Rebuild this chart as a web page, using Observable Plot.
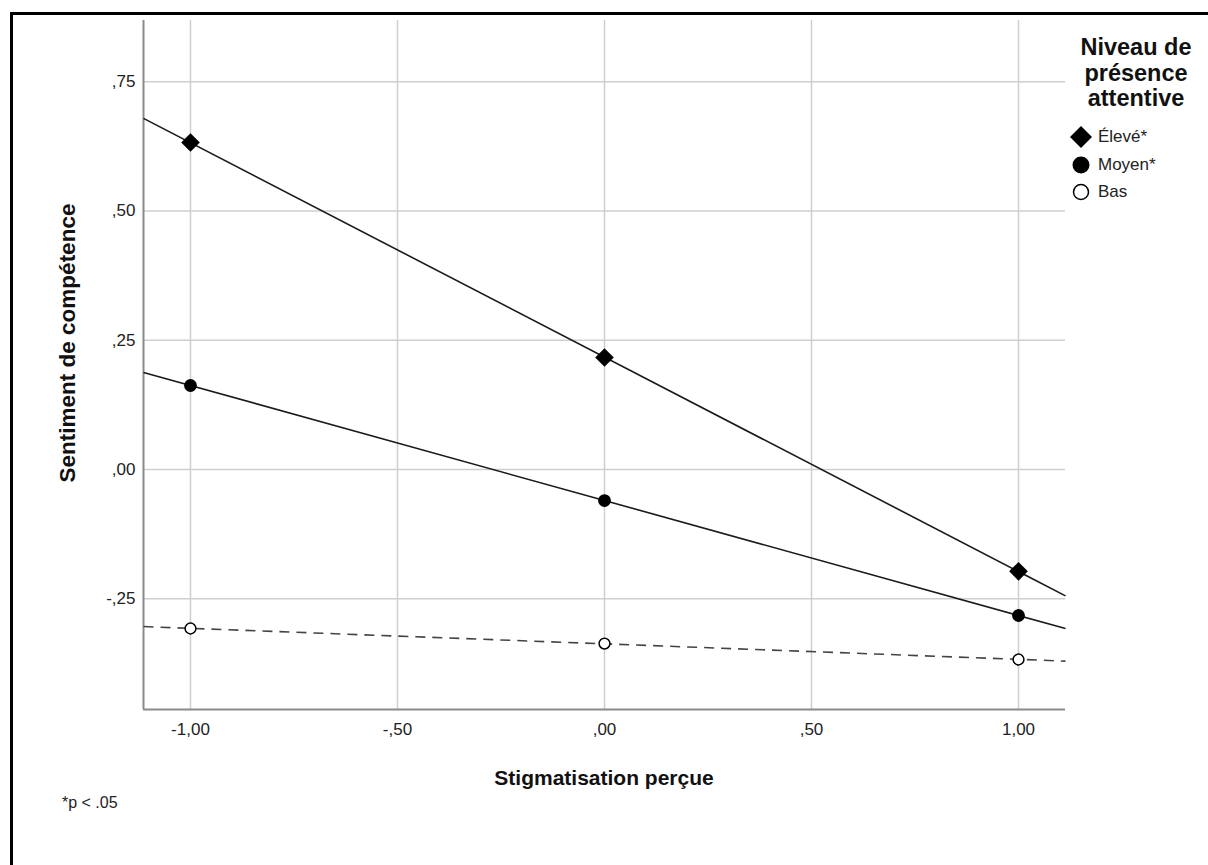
<!DOCTYPE html>
<html>
<head>
<meta charset="utf-8">
<script src="https://cdn.jsdelivr.net/npm/d3@7"></script>
<script src="https://cdn.jsdelivr.net/npm/@observablehq/plot@0.6"></script>
<style>
  html, body { margin: 0; padding: 0; background: #fff; }
  #wrap { position: relative; width: 1208px; height: 865px; overflow: hidden; font-family: "Liberation Sans", Arial, sans-serif; }
  #border { position: absolute; left: 10px; top: 12px; width: 1300px; height: 900px; border-top: 3px solid #000; border-left: 3px solid #000; }
  #chart { position: absolute; left: 0; top: 0; }
  .axtitle { position: absolute; font-weight: bold; font-size: 21px; color: #111; white-space: nowrap; }
  #xtitle { left: 604px; top: 778px; transform: translate(-50%, -50%); }
  #ytitle { left: 68px; top: 343px; font-size: 22.5px; transform: translate(-50%, -50%) rotate(-90deg); }
  #caption { position: absolute; left: 62px; top: 794px; font-size: 16px; color: #222; }
  #legend { position: absolute; left: 1066px; top: 35px; width: 140px; }
  #legend .ltitle { font-weight: bold; font-size: 23.5px; line-height: 25.5px; text-align: center; color: #111; }
  #legend .item { display: flex; align-items: center; height: 27.5px; font-size: 17px; color: #222; margin-left: 3px; }
  #legend .item svg { margin-right: 5px; }
</style>
</head>
<body>
<div id="wrap">
  <div id="border"></div>
  <div id="chart"></div>
  <div id="xtitle" class="axtitle">Stigmatisation perçue</div>
  <div id="ytitle" class="axtitle">Sentiment de compétence</div>
  <div id="caption">*p &lt; .05</div>
  <div id="legend"></div>
</div>
<script>
// ---- Data ----
const stigmaLevels = [-1, 0, 1];
const groupNames = ["Élevé*", "Moyen*", "Bas"];
const eleveValues = [0.6325, 0.2166, -0.197];
const moyenValues = [0.1625, -0.060, -0.2824];
const basValues = [-0.3075, -0.3366, -0.3675];
const xTicks = [-1, -0.5, 0, 0.5, 1];
const yTicks = [-0.25, 0, 0.25, 0.5, 0.75];
const xDomain = [-1.1135, 1.1135];
const yDomain = [-0.4642, 0.8685];
const legendTitle = ["Niveau de", "présence", "attentive"];

// ---- Build tables ----
const seriesValues = [eleveValues, moyenValues, basValues];
const points = [];
groupNames.forEach((g, gi) => stigmaLevels.forEach((x, i) => points.push({group: g, x, y: seriesValues[gi][i]})));

// least-squares fit of each series, drawn across the full x domain
function fit(xs, ys) {
  const mx = d3.mean(xs), my = d3.mean(ys);
  const b = d3.sum(xs, (x, i) => (x - mx) * (ys[i] - my)) / d3.sum(xs, x => (x - mx) ** 2);
  return {a: my - b * mx, b};
}
const fitLines = groupNames.map((g, gi) => {
  const {a, b} = fit(stigmaLevels, seriesValues[gi]);
  return {group: g, x1: xDomain[0], y1: a + b * xDomain[0], x2: xDomain[1], y2: a + b * xDomain[1]};
});

const fmt = d => {
  let s = Math.abs(d).toFixed(2).replace(".", ",");
  s = s.replace(/^0,/, ",");
  return (d < 0 ? "-" : "") + s;
};

const chart = Plot.plot({
  width: 1208,
  height: 760,
  marginLeft: 143,
  marginRight: 143,
  marginTop: 20,
  marginBottom: 51,
  style: {fontFamily: "Liberation Sans, Arial, sans-serif", fontSize: "17px", color: "#222", background: "transparent"},
  x: {domain: xDomain, ticks: xTicks, tickFormat: fmt, tickSize: 0, tickPadding: 13, label: null},
  y: {domain: yDomain, ticks: yTicks, tickFormat: fmt, tickSize: 0, tickPadding: 8, label: null},
  marks: [
    Plot.gridX(xTicks, {stroke: "#cfcfcf", strokeOpacity: 1, strokeWidth: 1.5}),
    Plot.gridY(yTicks, {stroke: "#cfcfcf", strokeOpacity: 1, strokeWidth: 1.5}),
    Plot.ruleX([xDomain[0]], {stroke: "#8a8a8a", strokeWidth: 2}),
    Plot.ruleY([yDomain[0]], {stroke: "#8a8a8a", strokeWidth: 2}),
    Plot.link(fitLines.filter(d => d.group !== "Bas"), {
      x1: "x1", y1: "y1", x2: "x2", y2: "y2", stroke: "#1a1a1a", strokeWidth: 1.6
    }),
    Plot.link(fitLines.filter(d => d.group === "Bas"), {
      x1: "x1", y1: "y1", x2: "x2", y2: "y2", stroke: "#444", strokeWidth: 1.6, strokeDasharray: "10,7"
    }),
    Plot.dot(points.filter(d => d.group === groupNames[0]), {x: "x", y: "y", symbol: "diamond2", r: 8.4, fill: "#000", stroke: "none"}),
    Plot.dot(points.filter(d => d.group === groupNames[1]), {x: "x", y: "y", symbol: "circle", r: 6.4, fill: "#000", stroke: "none"}),
    Plot.dot(points.filter(d => d.group === groupNames[2]), {x: "x", y: "y", symbol: "circle", r: 5.4, fill: "#fff", stroke: "#000", strokeWidth: 1.5})
  ]
});
document.getElementById("chart").appendChild(chart);

// ---- Legend ----
const legend = document.getElementById("legend");
legend.innerHTML = `<div class="ltitle">${legendTitle.join("<br>")}</div><div style="height:12px"></div>`;
const legendSymbols = [
  `<svg width="24" height="24" viewBox="-12 -12 24 24"><path d="M0,-11L11,0L0,11L-11,0Z" fill="#000"/></svg>`,
  `<svg width="24" height="24" viewBox="-12 -12 24 24"><circle r="8.5" fill="#000"/></svg>`,
  `<svg width="24" height="24" viewBox="-12 -12 24 24"><circle r="7.5" fill="#fff" stroke="#000" stroke-width="1.5"/></svg>`
];
groupNames.forEach((g, i) => {
  const div = document.createElement("div");
  div.className = "item";
  div.innerHTML = legendSymbols[i] + `<span>${g}</span>`;
  legend.appendChild(div);
});
</script>
</body>
</html>
